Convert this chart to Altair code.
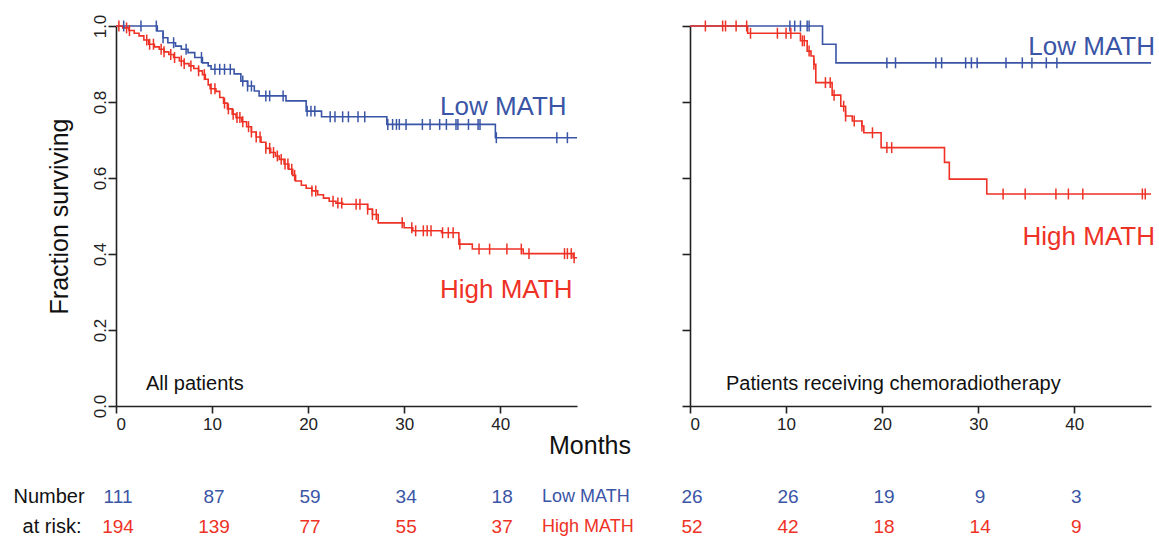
import altair as alt
import pandas as pd

BLUE = "#3A55A6"
RED = "#EE3226"
FONT = "Liberation Sans"

# ---------------- All patients ----------------
all_low_t = [0, 4.3, 4.9, 5.4, 6.2, 6.8, 7.5, 8.2, 9.0, 9.6, 9.9, 12.3, 13.0, 13.7, 14.4, 14.9, 17.7, 19.8, 21.4, 28.2, 39.5]
all_low_s = [1.0, 0.987, 0.969, 0.956, 0.947, 0.939, 0.930, 0.917, 0.903, 0.895, 0.886, 0.874, 0.855, 0.842, 0.829, 0.816, 0.803, 0.776, 0.761, 0.741, 0.706]
all_low_cens = [0.8, 2.6, 4.2, 4.9, 6.0, 7.3, 8.9, 10.3, 10.8, 11.3, 11.9, 13.2, 13.7, 14.1, 15.6, 16.0, 17.4,
                19.9, 20.3, 20.7, 22.3, 22.8, 23.6, 24.2, 25.2, 25.9, 28.3, 28.8, 29.2, 29.5, 30.2, 31.9, 32.7,
                33.7, 34.4, 35.4, 35.6, 36.7, 37.7, 37.9, 39.6, 45.9, 47.0]

all_high_t = [0, 0.7, 1.35, 1.9, 2.4, 2.9, 3.4, 4.0, 4.5, 5.0, 5.5, 6.0, 6.6, 7.1, 7.6, 8.1, 8.6, 9.0, 9.3, 9.6,
              9.8, 10.4, 10.8, 11.2, 11.6, 12.1, 12.5, 13.1, 13.6, 14.1, 14.6, 15.1, 15.6, 16.1, 16.6, 17.0,
              17.5, 18.0, 18.4, 18.7, 19.3, 19.8, 20.4, 21.0, 21.6, 22.2, 22.9, 23.6, 26.2, 26.7, 27.3, 30.0,
              30.9, 33.9, 35.7, 37.1, 42.4, 47.6]
all_high_s = [1.0, 0.995, 0.988, 0.981, 0.974, 0.963, 0.952, 0.945, 0.939, 0.932, 0.925, 0.917, 0.908, 0.901,
              0.895, 0.888, 0.882, 0.872, 0.860, 0.845, 0.835, 0.828, 0.812, 0.797, 0.782, 0.768, 0.759, 0.748,
              0.735, 0.721, 0.708, 0.694, 0.678, 0.667, 0.658, 0.649, 0.637, 0.623, 0.607, 0.592, 0.581, 0.573,
              0.566, 0.556, 0.547, 0.539, 0.534, 0.531, 0.518, 0.504, 0.482, 0.469, 0.461, 0.456, 0.426, 0.413,
              0.401, 0.390]
all_high_cens = [0.3, 1.1, 1.4, 3.2, 3.5, 3.9, 4.7, 5.0, 5.7, 6.1, 6.8, 7.1, 7.8, 8.6, 9.2, 9.9, 10.3, 11.3,
                 11.7, 12.2, 12.6, 12.9, 13.2, 13.8, 14.1, 14.6, 15.0, 15.6, 16.0, 16.4, 16.8, 17.2, 17.6, 17.9,
                 18.3, 18.6, 20.4, 20.8, 22.6, 23.1, 23.5, 25.0, 25.4, 26.2, 26.7, 27.1, 29.8, 30.8, 31.2, 32.0,
                 32.4, 32.8, 34.0, 34.6, 35.1, 35.8, 37.8, 38.9, 40.7, 42.2, 43.0, 46.7, 47.0, 47.4, 47.7]

# ---------------- Chemoradiotherapy ----------------
crt_low_t = [0, 13.8, 15.2]
crt_low_s = [1.0, 0.952, 0.903]
crt_low_cens = [10.4, 10.9, 11.5, 12.2, 12.4, 20.5, 21.4, 25.6, 26.2, 28.7, 29.3, 29.9, 32.9, 34.6, 35.6, 37.1, 38.2]

crt_high_t = [0, 6.0, 11.5, 12.2, 12.6, 12.9, 13.1, 14.8, 15.7, 16.2, 16.9, 17.9, 18.1, 19.9, 26.5, 27.0, 30.9]
crt_high_s = [1.0, 0.981, 0.961, 0.934, 0.921, 0.899, 0.851, 0.818, 0.789, 0.763, 0.750, 0.737, 0.719, 0.680,
              0.641, 0.597, 0.558]
crt_high_cens = [1.6, 3.4, 3.7, 4.8, 5.9, 6.3, 9.1, 10.0, 10.5, 11.7, 11.9, 12.4, 12.9, 14.1, 14.6, 15.0, 16.0,
                 16.2, 17.1, 17.9, 19.0, 20.5, 21.0, 32.6, 34.9, 38.1, 39.4, 40.9, 47.1, 47.4]

# ---------------- Number at risk ----------------
risk_months = [0, 10, 20, 30, 40]
all_low_risk = [111, 87, 59, 34, 18]
all_high_risk = [194, 139, 77, 55, 37]
crt_low_risk = [26, 26, 19, 9, 3]
crt_high_risk = [52, 42, 18, 14, 9]

X_MAX = 48
W, H = 461, 380


def step_df(ts, ss):
    return pd.DataFrame({"t": list(ts) + [X_MAX], "s": list(ss) + [ss[-1]]})


def cens_df(ts, ss, cens):
    vals = []
    for c in cens:
        v = ss[0]
        for t, s in zip(ts, ss):
            if t <= c:
                v = s
        vals.append(v)
    return pd.DataFrame({"t": cens, "s": vals})


def panel(low_t, low_s, low_c, high_t, high_s, high_c, low_risk, high_risk, caption,
          cap_x, low_lbl, high_lbl, left):
    xenc = alt.X("t:Q", scale=alt.Scale(domain=[0, X_MAX], nice=False, zero=False),
                 axis=alt.Axis(values=risk_months, title=None, grid=False, tickSize=7,
                               labelPadding=3, labelFontSize=17))
    if left:
        yaxis = alt.Axis(values=[0, 0.2, 0.4, 0.6, 0.8, 1.0], format=".1f", labelAngle=270,
                         labelAlign="center", labelBaseline="alphabetic", title="Fraction surviving",
                         titlePadding=19, titleFontSize=25, tickSize=8, labelPadding=3,
                         labelFontSize=17, grid=False)
    else:
        yaxis = alt.Axis(values=[0, 0.2, 0.4, 0.6, 0.8, 1.0], labels=False, title=None,
                         tickSize=8, grid=False)
    yenc = alt.Y("s:Q", scale=alt.Scale(domain=[0, 1], nice=False, zero=True), axis=yaxis)

    def line(ts, ss, col):
        return alt.Chart(step_df(ts, ss)).mark_line(
            interpolate="step-after", color=col, strokeWidth=1.6).encode(x=xenc, y=yenc)

    def cens(ts, ss, cs, col):
        return alt.Chart(cens_df(ts, ss, cs)).mark_point(
            shape="M0,-1L0,1", size=120, strokeWidth=1.5, color=col, filled=False, opacity=1
        ).encode(x=xenc, y=yenc)

    def label(txt, x, y, col, size, align="left"):
        return alt.Chart(pd.DataFrame({"txt": [txt]})).mark_text(
            align=align, baseline="middle", fontSize=size, color=col, font=FONT
        ).encode(x=alt.value(x), y=alt.value(y), text="txt:N")

    def risk_row(vals, y, col):
        d = pd.DataFrame({"t": risk_months, "n": vals})
        return alt.Chart(d).mark_text(
            align="center", baseline="middle", fontSize=19, color=col, font=FONT, dx=2
        ).encode(x=xenc, y=alt.value(y), text="n:Q")

    layers = [
        line(low_t, low_s, BLUE),
        line(high_t, high_s, RED),
        cens(low_t, low_s, low_c, BLUE),
        cens(high_t, high_s, high_c, RED),
        label("Low MATH", low_lbl[0], low_lbl[1], BLUE, 26, low_lbl[2]),
        label("High MATH", high_lbl[0], high_lbl[1], RED, 26, high_lbl[2]),
        label(caption, cap_x, 358, "#111", 20),
        risk_row(low_risk, 471, BLUE),
        risk_row(high_risk, 501, RED),
    ]
    if left:
        layers += [
            label("Months", 474, 420, "#111", 25, "center"),
            label("Number", -67, 471, "#111", 20, "center"),
            label("at risk:", -64, 501, "#111", 20, "center"),
            label("Low MATH", 426, 471, BLUE, 18),
            label("High MATH", 426, 501, RED, 18),
        ]
    return alt.layer(*layers).properties(width=W, height=H)


left = panel(all_low_t, all_low_s, all_low_cens, all_high_t, all_high_s, all_high_cens,
             all_low_risk, all_high_risk, "All patients", 30,
             (324, 81, "left"), (324, 264, "left"), True)
right = panel(crt_low_t, crt_low_s, crt_low_cens, crt_high_t, crt_high_s, crt_high_cens,
              crt_low_risk, crt_high_risk, "Patients receiving chemoradiotherapy", 36,
              (465, 21, "right"), (465, 211, "right"), False)

chart = alt.hconcat(left, right, spacing=113, bounds="flush").properties(
    padding={"left": 13, "top": 14, "right": 2, "bottom": 2}
).configure(font=FONT).configure_view(stroke=None).configure_axis(
    domainColor="#222", tickColor="#222", domainWidth=1.6, tickWidth=1.6,
    labelColor="#222", titleColor="#111", labelFont=FONT, titleFont=FONT,
    titleFontWeight="normal"
)

chart.save("out.html", embed_options={"renderer": "svg", "actions": False})
